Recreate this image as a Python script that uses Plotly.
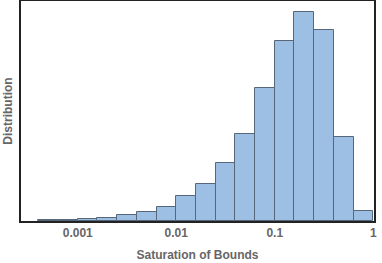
import plotly.graph_objects as go

# Histogram bins (lower edge, log10 of saturation) and bar heights
bin_lower_log10 = [-3.4, -3.2, -3.0, -2.8, -2.6, -2.4, -2.2, -2.0, -1.8, -1.6,
                   -1.4, -1.2, -1.0, -0.8, -0.6, -0.4, -0.2]
bin_width_log10 = 0.2
counts = [2, 4, 5, 8, 17, 28, 43, 74, 113, 175, 263, 402, 543, 630, 576, 253, 31]

tick_vals_log10 = [-3, -2, -1, 0]
tick_labels = ["0.001", "0.01", "0.1", "1"]

centers = [b + bin_width_log10 / 2 for b in bin_lower_log10]

fig = go.Figure(go.Bar(
    x=centers, y=counts, width=bin_width_log10,
    marker=dict(color="#9dbfe3", line=dict(color="#56677a", width=1)),
    hoverinfo="skip",
))

fig.update_layout(
    width=382, height=263,
    margin=dict(l=21, r=8, t=1, b=42, autoexpand=False),
    paper_bgcolor="white", plot_bgcolor="white",
    showlegend=False,
    font=dict(family="Liberation Sans, Arial, sans-serif", color="#666666"),
    bargap=0,
)
fig.update_xaxes(
    range=[-3.576, 0.007],
    tickvals=tick_vals_log10, ticktext=tick_labels,
    tickfont=dict(size=12, color="#666666", weight="bold"),
    showgrid=False, zeroline=False, automargin=False,
    showline=True, linecolor="#222222", linewidth=1.5, mirror=True,
    ticks="", ticklen=0,
    title=dict(text="Saturation of Bounds", standoff=11,
               font=dict(size=12, color="#666666", weight="bold")),
)
fig.update_yaxes(
    range=[0, 664],
    showticklabels=False, ticks="",
    showgrid=False, zeroline=False, automargin=False,
    showline=True, linecolor="#222222", linewidth=1.5, mirror=True,
    title=dict(text="Distribution", standoff=4,
               font=dict(size=12, color="#666666", weight="bold")),
)

fig.write_html(
    "out.html",
    config={"displayModeBar": False},
    post_script="document.body.style.margin='0';document.body.style.padding='0';",
)
